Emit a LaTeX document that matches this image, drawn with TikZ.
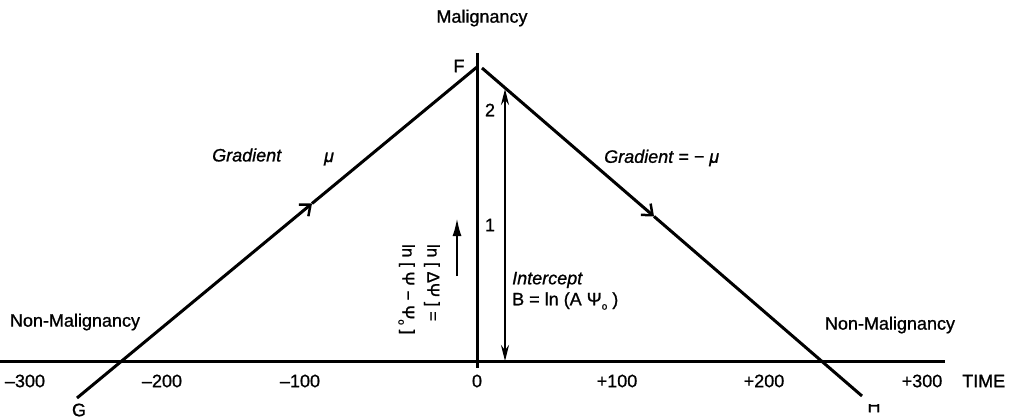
\documentclass[tikz,border=0pt]{standalone}
\usepackage{fontspec}
\setmainfont{Liberation Sans}[FakeBold=1]
\usetikzlibrary{arrows.meta}
\newcommand\subo{\raisebox{-0.45ex}{\fontsize{10}{10}\selectfont o}}
\begin{document}
\begin{tikzpicture}[x=1pt,y=-1pt,
  lbl/.style={inner sep=0pt, font=\fontsize{18}{20}\selectfont},
  ilbl/.style={inner sep=0pt, font=\fontsize{18}{20}\selectfont\itshape},
  heavy/.style={line width=3pt},
  medium/.style={line width=2.3pt},
  midarrow/.style={-{Straight Barb[length=9pt,width=15pt,line width=2.5pt]}}]
\useasboundingbox (0,0) rectangle (1014,420);
% coordinates
\coordinate (AL) at (0,361);
\coordinate (AR) at (945,361);
\coordinate (VT) at (477,53);
\coordinate (VB) at (477,368);
\coordinate (G) at (77,398);
\coordinate (F) at (477,67);
\coordinate (F2) at (482,68);
\coordinate (Hend) at (862,396);
\coordinate (ML) at (312,203.5);
\coordinate (MR) at (654,216.4);
\coordinate (DT) at (505,89);
\coordinate (DB) at (505,361);
\coordinate (ST) at (457,218);
\coordinate (SB) at (457,276);
% axes
\draw[heavy] (AL) -- (AR);
\draw[heavy] (VT) -- (VB);
% rising and falling lines
\draw[heavy,midarrow] (G) -- (ML);
\draw[heavy] (ML) -- (F);
\draw[heavy,midarrow] (F2) -- (MR);
\draw[heavy] (MR) -- (Hend);
% arrows
\draw[medium,{Stealth[length=16pt,width=8pt]}-{Stealth[length=16pt,width=8pt]}] (DB) -- (DT);
\draw[medium,-{Latex[length=18pt,width=9pt]}] (SB) -- (ST);
% labels
\node[lbl] (mal) at (482,18) {Malignancy};
\node[lbl] (Flab) at (459,66) {F};
\node[lbl] (two) at (490,110) {2};
\node[lbl] (one) at (490,225) {1};
\node[ilbl,anchor=west] (grad) at (212,155) {Gradient};
\node[ilbl] (mu) at (329,159) {μ};
\node[ilbl,anchor=west] (grad2) at (604,158) {Gradient = − μ};
\node[ilbl,anchor=west] (inter) at (512,280) {Intercept};
\node[lbl,anchor=west] (B) at (512,301) {B = ln (A Ψ\subo\ )};
\node[lbl] (nml) at (75,322) {Non-Malignancy};
\node[lbl] (nmr) at (890,325) {Non-Malignancy};
\node[lbl,rotate=-90,anchor=north west,align=left,font=\fontsize{17}{25}\selectfont] (psi) at (440,244)
  {ln [ ΔΨ ] =\\ln [ Ψ − Ψ\subo\ ]};
% ticks
\node[lbl] (t1) at (25,381) {–300};
\node[lbl] (t2) at (162,381) {–200};
\node[lbl] (t3) at (300,381) {–100};
\node[lbl] (t4) at (477,381) {0};
\node[lbl] (t5) at (617,381) {+100};
\node[lbl] (t6) at (764,381) {+200};
\node[lbl] (t7) at (922,381) {+300};
\node[lbl,anchor=west] (time) at (962,381) {TIME};
\node[lbl] (Glab) at (79,410) {G};
\begin{scope}
  \clip (860,404) rectangle (890,420);
  \node[lbl] (Hlab) at (874,406) {H};
\end{scope}
\end{tikzpicture}
\end{document}
